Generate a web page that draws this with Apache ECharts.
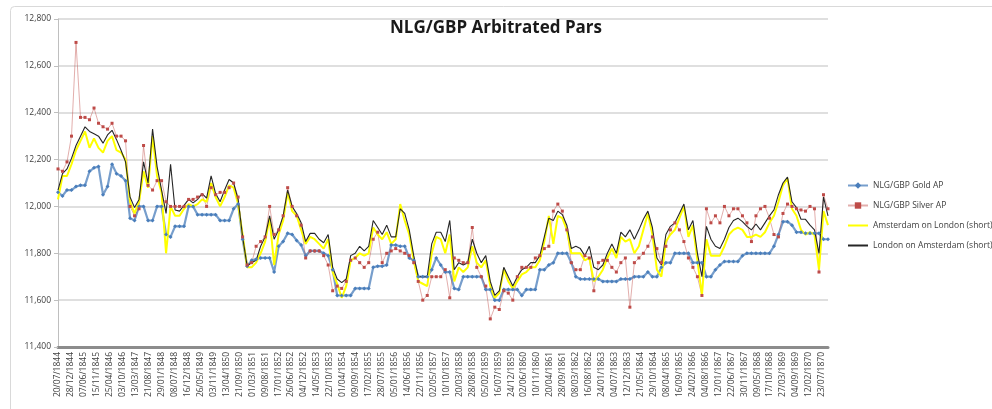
<!DOCTYPE html>
<html>
<head>
<meta charset="utf-8">
<title>NLG/GBP Arbitrated Pars</title>
<script src="https://cdn.jsdelivr.net/npm/echarts@6/dist/echarts.min.js"></script>
<style>
  html, body { margin: 0; padding: 0; background: #fff; }
  #parsChart { width: 992px; height: 409px; }
</style>
</head>
<body>
<div id="parsChart"></div>
<script>
// weekly series, one category per week from 20/07/1844; values read every 8 weeks
const weekCount = 1369;
const sampleStep = 8;
const labelEvery = 23;

const tickLabels = ['20/07/1844','28/12/1844','07/06/1845','15/11/1845','25/04/1846','03/10/1846','13/03/1847','21/08/1847','29/01/1848','08/07/1848',
  '16/12/1848','26/05/1849','03/11/1849','13/04/1850','21/09/1850','01/03/1851','09/08/1851','17/01/1852','26/06/1852','04/12/1852',
  '14/05/1853','22/10/1853','01/04/1854','09/09/1854','17/02/1855','28/07/1855','05/01/1856','14/06/1856','22/11/1856','02/05/1857',
  '10/10/1857','20/03/1858','28/08/1858','05/02/1859','16/07/1859','24/12/1859','02/06/1860','10/11/1860','20/04/1861','28/09/1861',
  '08/03/1862','16/08/1862','24/01/1863','04/07/1863','12/12/1863','21/05/1864','29/10/1864','08/04/1865','16/09/1865','24/02/1866',
  '04/08/1866','12/01/1867','22/06/1867','30/11/1867','09/05/1868','17/10/1868','27/03/1869','04/09/1869','12/02/1870','23/07/1870'];

const seriesNames = ['NLG/GBP Gold AP', 'NLG/GBP Silver AP', 'Amsterdam on London (short)', 'London on Amsterdam (short)'];

const goldAP = [12060,12045,12070,12070,12085,12090,12090,12150,12165,12170,
  12050,12085,12180,12140,12130,12110,11950,11940,12000,12000,
  11940,11940,12000,12000,11880,11870,11915,11915,11915,12000,
  12000,11965,11965,11965,11965,11965,11940,11940,11940,11990,
  12010,11860,11745,
  11770,11775,11780,11780,11780,11720,11830,11850,11885,11880,
  11855,11835,11790,11810,11810,11810,11800,11790,11730,11620,
  11620,11620,11620,11650,11650,11650,11650,11740,11745,11745,
  11750,11835,11835,11830,11830,11780,11770,11700,11700,11700,
  11730,11780,
  11750,11720,11720,11650,11645,11700,11700,11700,11700,11700,
  11645,11645,11600,11600,11645,11645,11645,11645,11620,11645,
  11645,11645,11730,11730,11750,11760,11800,11800,11800,11760,
  11700,11690,11690,11690,11690,11690,11680,11680,11680,11680,
  11690,11690,11690,11700,
  11700,11700,11720,11700,11700,11740,11760,11760,11800,11800,
  11800,11800,11760,11760,11760,11700,11700,11730,11750,11765,
  11765,11765,11765,11790,11800,11800,11800,11800,11800,11800,
  11830,11880,11935,11935,11920,11890,11890,11885,11885,11885,
  11885,11860,11860];

const silverAP = [12160,12150,12190,12300,12700,12380,12380,12370,12420,12355,
  12340,12330,12355,12300,12300,12280,12000,11960,11990,12260,
  12090,12070,12110,12110,12020,12000,12000,12000,12000,12030,
  12030,12040,12050,12000,12080,12050,12060,12060,12080,12100,
  12040,11870,11750,
  11760,11830,11850,11870,12000,11880,11900,11960,12080,12000,
  11960,11920,11780,11810,11810,11810,11790,11750,11640,11660,
  11650,11680,11770,11780,11760,11740,11760,11860,11890,11760,
  11800,11810,11820,11810,11800,11790,11760,11680,11600,11620,
  11700,11700,
  11700,11730,11610,11780,11770,11760,11760,11910,11740,11700,
  11660,11520,11570,11560,11640,11630,11600,11700,11740,11740,
  11740,11780,11790,11820,11830,11980,12010,11980,11900,11760,
  11730,11730,11790,11780,11640,11760,11770,11770,11740,11720,
  11760,11780,11570,11760,
  11780,11800,11830,11870,11820,11760,11830,11900,11930,11900,
  11850,11780,11740,11700,11620,11990,11930,11960,11930,12000,
  11960,11990,11990,11960,11930,11850,11960,11990,12000,11950,
  11880,11870,11970,12010,12000,11990,11985,11980,12000,11990,
  11720,12050,11990];

const amsOnLondon = [12030,12130,12130,12180,12240,12280,12320,12250,12290,12250,
  12230,12280,12300,12240,12230,12200,12020,11970,12020,12150,
  12080,12300,12130,12060,11800,12000,11960,11960,11990,12010,
  12000,12010,12030,12020,12100,12040,12000,12040,12090,12080,
  12010,11880,11740,
  11740,11760,11800,11850,11950,11750,11880,11940,12060,11980,
  11960,11900,11840,11870,11860,11840,11820,11860,11720,11670,
  11610,11660,11770,11780,11800,11790,11800,11910,11880,11860,
  11890,11840,11860,12010,11940,11880,11770,11680,11670,11660,
  11800,11870,
  11860,11800,11880,11680,11740,11720,11740,11830,11760,11740,
  11770,11660,11610,11630,11730,11680,11650,11680,11710,11720,
  11740,11740,11770,11850,11960,11840,11960,11950,11900,11800,
  11800,11800,11770,11780,11680,11700,11730,11780,11820,11780,
  11870,11850,11860,11800,
  11830,11900,11970,11880,11730,11700,11850,11880,11900,11950,
  12000,11870,11920,11770,11620,11860,11790,11790,11790,11830,
  11880,11900,11910,11900,11870,11870,11880,11870,11890,11930,
  11960,12020,12090,12120,11990,11960,11900,11880,11890,11880,
  11730,11980,11920];

const londonOnAms = [12070,12140,12160,12205,12260,12300,12340,12320,12310,12300,
  12270,12305,12325,12285,12240,12190,12040,11995,12030,12190,
  12100,12330,12170,12070,11970,12180,11985,11980,12005,12030,
  12015,12030,12055,12035,12130,12055,12020,12070,12115,12100,
  12030,11870,11745,
  11760,11770,11830,11870,11960,11860,11900,11960,12070,12000,
  11970,11930,11850,11885,11885,11860,11845,11880,11740,11690,
  11675,11690,11790,11800,11830,11810,11830,11940,11910,11880,
  11920,11870,11870,11990,11970,11900,11790,11700,11700,11700,
  11840,11890,
  11890,11850,11940,11730,11760,11750,11760,11860,11800,11760,
  11790,11680,11620,11640,11740,11700,11660,11700,11730,11740,
  11760,11760,11790,11870,11950,11940,11980,11965,11920,11820,
  11830,11820,11790,11830,11740,11730,11750,11800,11840,11800,
  11890,11870,11900,11860,
  11900,11945,11980,11910,11780,11750,11880,11915,11930,11970,
  12010,11900,11940,11800,11700,11915,11860,11830,11820,11860,
  11910,11940,11950,11935,11915,11900,11925,11900,11930,11960,
  11985,12050,12100,12125,12020,11995,11945,11945,11920,11900,
  11800,12040,11960];

const weeks = [];
for (let i = 0; i < weekCount; i++) weeks.push(String(i));

function toPoints(values) {
  return values.map((v, i) => [i * sampleStep, v]);
}

const txt = '#404040';
const font = "'Open Sans', 'Liberation Sans', sans-serif";

let chart = echarts.init(document.getElementById('parsChart'), null, { renderer: 'canvas' });

var option = {
  animation: false,
  backgroundColor: '#ffffff',
  textStyle: { fontFamily: font },
  graphic: [{
    type: 'rect',
    shape: { x: 10.5, y: 6.5, width: 1000, height: 420, r: 4 },
    style: { fill: 'none', stroke: '#d9d9d9', lineWidth: 1 },
    silent: true, z: -1
  }],
  title: {
    text: 'NLG/GBP Arbitrated Pars',
    left: 'center',
    top: 15,
    textStyle: { fontSize: 17, fontWeight: 'bold', color: '#1a1a1a', fontFamily: font }
  },
  grid: { left: 58, right: 164, top: 19, bottom: 62 },
  legend: {
    orient: 'vertical',
    left: 842,
    top: 176,
    itemWidth: 20,
    itemHeight: 8,
    itemGap: 11,
    textStyle: { fontSize: 8.5, color: txt, fontFamily: font },
    data: [
      { name: seriesNames[0] },
      { name: seriesNames[1] },
      { name: seriesNames[2], itemStyle: { opacity: 0 } },
      { name: seriesNames[3], itemStyle: { opacity: 0 } }
    ]
  },
  xAxis: {
    type: 'category',
    data: weeks,
    boundaryGap: false,
    axisLine: { lineStyle: { color: '#8c8c8c', width: 3 } },
    axisTick: { show: false },
    axisLabel: {
      interval: labelEvery - 1,
      rotate: 90,
      fontSize: 8.5,
      color: txt,
      margin: 5,
      formatter: function (value, idx) {
        return idx % labelEvery === 0 ? (tickLabels[idx / labelEvery] || '') : '';
      }
    },
    splitLine: { show: false }
  },
  yAxis: {
    type: 'value',
    min: 11400,
    max: 12800,
    interval: 200,
    axisLine: { show: true, lineStyle: { color: '#bfbfbf', width: 1 } },
    axisTick: { show: true, length: 4, lineStyle: { color: '#bfbfbf' } },
    axisLabel: { fontSize: 8.5, color: txt, margin: 7 },
    splitLine: { lineStyle: { color: '#d4d4d4', width: 1.5 } }
  },
  series: [
    {
      name: seriesNames[0],
      type: 'line',
      data: toPoints(goldAP),
      symbol: 'diamond',
      symbolSize: 4,
      showSymbol: true,
      showAllSymbol: true,
      itemStyle: { color: '#4a7ebb' },
      lineStyle: { color: '#4a7ebb', width: 2.2, opacity: 0.75 }
    },
    {
      name: seriesNames[1],
      type: 'line',
      data: toPoints(silverAP),
      symbol: 'rect',
      symbolSize: 3,
      showSymbol: true,
      showAllSymbol: true,
      itemStyle: { color: '#be4b48' },
      lineStyle: { color: '#be4b48', width: 1, opacity: 0.45 }
    },
    {
      name: seriesNames[2],
      type: 'line',
      data: toPoints(amsOnLondon),
      symbol: 'circle',
      showSymbol: false,
      itemStyle: { color: '#ffff00' },
      lineStyle: { color: '#ffff00', width: 2 }
    },
    {
      name: seriesNames[3],
      type: 'line',
      data: toPoints(londonOnAms),
      symbol: 'circle',
      showSymbol: false,
      itemStyle: { color: '#262626' },
      lineStyle: { color: '#262626', width: 1.1 }
    }
  ]
};

chart.setOption(option);
</script>
</body>
</html>
